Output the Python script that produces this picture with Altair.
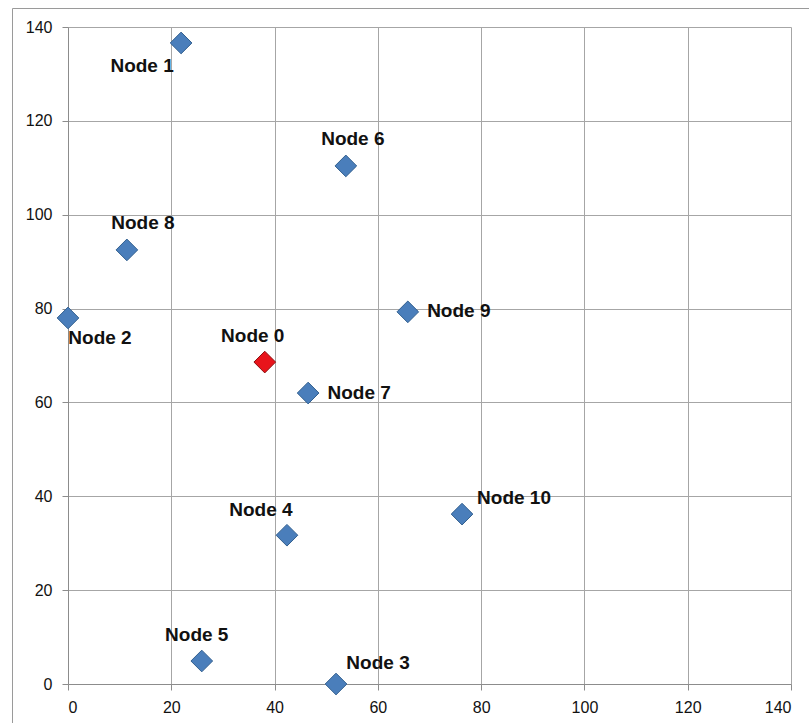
import altair as alt
import pandas as pd

nodes = ["Node 0", "Node 1", "Node 2", "Node 3", "Node 4", "Node 5",
         "Node 6", "Node 7", "Node 8", "Node 9", "Node 10"]
xs = [38.1, 21.9, 0.0, 51.9, 42.4, 25.9, 53.8, 46.5, 11.4, 65.8, 76.3]
ys = [68.6, 136.6, 78.0, 0.0, 31.7, 4.9, 110.4, 62.0, 92.5, 79.3, 36.2]
kinds = ["origin"] + ["node"] * 10
ticks = [0, 20, 40, 60, 80, 100, 120, 140]

df = pd.DataFrame({"name": nodes, "x": xs, "y": ys, "kind": kinds})

# label offsets in pixels (dx, dy) relative to each point
label_offsets = {
    "Node 0": (-12, -26), "Node 1": (-39, 23), "Node 2": (32, 20),
    "Node 3": (42, -21), "Node 4": (-26, -25), "Node 5": (-5, -26),
    "Node 6": (7, -27), "Node 7": (51, 0), "Node 8": (16, -27),
    "Node 9": (51, -1), "Node 10": (52, -16),
}

W, H = 723, 657

xscale = alt.Scale(domain=[0, 140], nice=False, zero=False)
yscale = alt.Scale(domain=[0, 140], nice=False, zero=False)

axis_common = dict(
    values=ticks, grid=True, gridColor="#a6a6a6", gridWidth=1,
    domainColor="#8c8c8c", tickColor="#8c8c8c", tickSize=6,
    labelFont="Liberation Sans", labelFontSize=16, labelColor="#111111",
    title=None,
)

base = alt.Chart(df)

frame = alt.Chart(pd.DataFrame({"a": [0]})).mark_rect(
    fill="transparent", stroke="#9a9a9a", strokeWidth=1
).encode(
    x=alt.value(-55.5), x2=alt.value(W + 60),
    y=alt.value(-18.5), y2=alt.value(H + 60),
)

points = base.mark_point(shape="diamond", filled=True, size=470, opacity=1,
                         strokeWidth=1).encode(
    x=alt.X("x:Q", scale=xscale,
            axis=alt.Axis(labelPadding=9, **axis_common)),
    y=alt.Y("y:Q", scale=yscale,
            axis=alt.Axis(labelPadding=10, **axis_common)),
    fill=alt.Fill("kind:N", scale=alt.Scale(domain=["origin", "node"],
                                            range=["#e8141b", "#4a7ebb"]),
                  legend=None),
    stroke=alt.Stroke("kind:N", scale=alt.Scale(domain=["origin", "node"],
                                                range=["#8c1010", "#33608f"]),
                      legend=None),
)

layers = [frame, points]
for n in nodes:
    dx, dy = label_offsets[n]
    layers.append(
        base.transform_filter(alt.datum.name == n).mark_text(
            font="Liberation Sans", fontWeight="bold", fontSize=19,
            color="#111111", align="center", baseline="middle", dx=dx, dy=dy,
        ).encode(x=alt.X("x:Q", scale=xscale), y=alt.Y("y:Q", scale=yscale),
                 text="name:N")
    )

chart = alt.layer(*layers).properties(
    width=W, height=H,
    autosize=alt.AutoSizeParams(type="none"),
    padding={"left": 68, "top": 27, "right": 18, "bottom": 39},
    background="white",
).configure_view(stroke="transparent")

chart.save("out.html", embed_options={"renderer": "svg", "actions": False})
